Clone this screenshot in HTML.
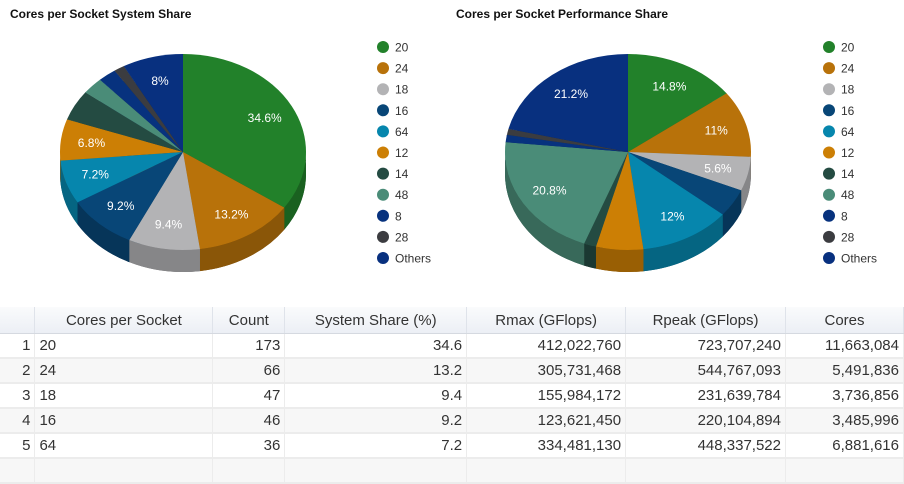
<!DOCTYPE html>
<html><head><meta charset="utf-8">
<style>
body{margin:0;width:904px;height:466px;overflow:hidden;background:#fff;font-family:"Liberation Sans",sans-serif;}
#charts{position:absolute;left:0;top:0;}
table{position:absolute;left:0;top:307px;border-collapse:collapse;font-size:15px;color:#333;}
th{height:26px;font-weight:normal;background:linear-gradient(#fafbfc,#eceff5);border-right:1px solid #dfe3ea;border-bottom:1px solid #d5d9e0;padding:0 4px;text-align:center;}
td{height:23px;border-bottom:2px solid #ececec;border-right:1px solid #ececec;padding:0 4px;text-align:right;}
tr.alt td{background:#f7f7f7;}
td.l{text-align:left;}
</style></head><body>
<svg id="charts" width="904" height="300"></svg>
<table>
<colgroup><col style="width:35px"><col style="width:178px"><col style="width:72px"><col style="width:182px"><col style="width:159px"><col style="width:160px"><col style="width:118px"></colgroup>
<tr><th></th><th>Cores per Socket</th><th>Count</th><th>System Share (%)</th><th>Rmax (GFlops)</th><th>Rpeak (GFlops)</th><th>Cores</th></tr>
<tr><td>1</td><td class="l">20</td><td>173</td><td>34.6</td><td>412,022,760</td><td>723,707,240</td><td>11,663,084</td></tr>
<tr class="alt"><td>2</td><td class="l">24</td><td>66</td><td>13.2</td><td>305,731,468</td><td>544,767,093</td><td>5,491,836</td></tr>
<tr><td>3</td><td class="l">18</td><td>47</td><td>9.4</td><td>155,984,172</td><td>231,639,784</td><td>3,736,856</td></tr>
<tr class="alt"><td>4</td><td class="l">16</td><td>46</td><td>9.2</td><td>123,621,450</td><td>220,104,894</td><td>3,485,996</td></tr>
<tr><td>5</td><td class="l">64</td><td>36</td><td>7.2</td><td>334,481,130</td><td>448,337,522</td><td>6,881,616</td></tr>
<tr class="alt"><td></td><td></td><td></td><td></td><td></td><td></td><td></td></tr>
</table>
<script>
const categories=["20","24","18","16","64","12","14","48","8","28","Others"];
const systemShare=[34.6,13.2,9.4,9.2,7.2,6.8,5.0,2.8,2.4,1.4,8.0];
const perfShare=[14.8,11.0,5.6,4.6,12.0,6.2,1.6,20.8,1.2,1.0,21.2];
const systemLabelled=[1,1,1,1,1,1,0,0,0,0,1];
const perfLabelled=[1,1,1,0,1,0,0,1,0,0,1];
const colors=["#22812a","#b8720a","#b3b3b5","#084677","#0686ad","#cc7f05","#244b42","#4a8c78","#07327e","#3b3c40","#08307f"];
const NS="http://www.w3.org/2000/svg";
const svg=document.getElementById('charts');
function el(t,a,p){const e=document.createElementNS(NS,t);for(const k in a)e.setAttribute(k,a[k]);(p||svg).appendChild(e);return e;}
function dark(c,f){const n=parseInt(c.slice(1),16);const r=Math.round((n>>16)*f),g=Math.round(((n>>8)&255)*f),b=Math.round((n&255)*f);return`rgb(${r},${g},${b})`;}
function pie(values,labelled,cx,cy,rx,ry,depth,title,tx,lx,key){
  const g=el('g',{});
  
  
  const tt=el('text',{x:tx,y:18,'font-size':12,'font-weight':'bold',fill:'#111'},g);
  tt.textContent=title;
  
  
  const total=values.reduce((a,b)=>a+b,0);
  const pt=(t,r,dy)=>[cx+rx*r*Math.sin(t),cy-ry*r*Math.cos(t)+(dy||0)];
  let acc=0;const sl=[];
  values.forEach(v=>{const a=acc/total*2*Math.PI;acc+=v;const b=acc/total*2*Math.PI;sl.push([a,b]);});
  sl.forEach(([a,b],i)=>{const p0=pt(a,1,depth),p1=pt(b,1,depth);
    el('path',{d:`M${cx},${cy+depth}L${p0}A${rx},${ry} 0 ${b-a>Math.PI?1:0} 1 ${p1}Z`,fill:dark(colors[i],0.6)},g);});
  sl.forEach(([a,b],i)=>{[a,b].forEach(t=>{const p=pt(t,1);
    el('path',{d:`M${cx},${cy}L${p}L${p[0]},${p[1]+depth}L${cx},${cy+depth}Z`,fill:dark(colors[i],0.7)},g);});});
  sl.forEach(([a,b],i)=>{const s=Math.max(a,Math.PI/2),e=Math.min(b,3*Math.PI/2);if(e<=s)return;
    const p0=pt(s,1),p1=pt(e,1);
    const w=el('path',{d:`M${p0}A${rx},${ry} 0 0 1 ${p1}L${p1[0]},${p1[1]+depth}A${rx},${ry} 0 0 0 ${p0[0]},${p0[1]+depth}Z`,fill:dark(colors[i],0.75)},g);
    
    });
  sl.forEach(([a,b],i)=>{const p0=pt(a,1),p1=pt(b,1);
    const s=el('path',{d:`M${cx},${cy}L${p0}A${rx},${ry} 0 ${b-a>Math.PI?1:0} 1 ${p1}Z`,fill:colors[i]},g);
    
    
    if(labelled[i]){const m=pt((a+b)/2,0.75);
      const l=el('text',{x:m[0],y:m[1]+4,'font-size':12,fill:'#fff','text-anchor':'middle'},g);
      l.textContent=(+values[i].toFixed(1))+'%';
      
      }});
  categories.forEach((c,i)=>{const y=47+i*21.1;
    const lg=el('g',{},g);
    
    
    el('circle',{cx:lx,cy:y,r:6,fill:colors[i]},lg);
    const t=el('text',{x:lx+12,y:y+4.5,'font-size':12,fill:'#333'},lg);t.textContent=c;});
}
pie(systemShare,systemLabelled,183,152,123,98,22,"Cores per Socket System Share",10,383,'system-share');
pie(perfShare,perfLabelled,628,152,123,98,22,"Cores per Socket Performance Share",456,829,'performance-share');
</script>
</body></html>
